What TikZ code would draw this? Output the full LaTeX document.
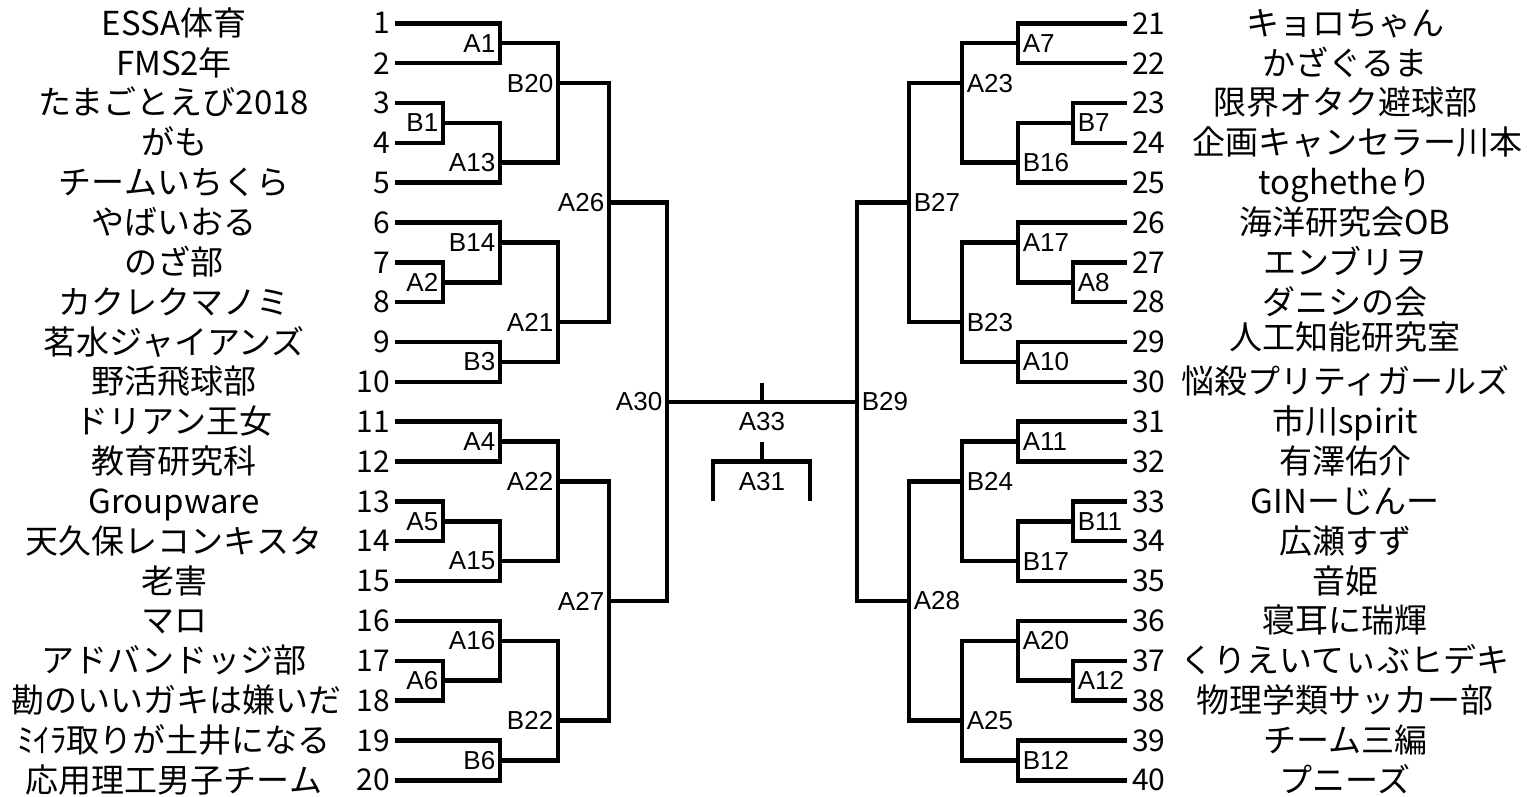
\documentclass[tikz,border=0pt]{standalone}
\usepackage{fontspec}
\setmainfont{Noto Sans CJK JP}
\newfontfamily\matchfont{Liberation Sans}

\begin{document}
\begin{tikzpicture}[x=1pt,y=-39.84pt,line width=4.5pt]
\tikzset{
  team/.style={font=\fontsize{33}{35}\selectfont,anchor=base,yshift=-12pt,inner sep=0pt},
  seedL/.style={font=\fontsize{30}{32}\selectfont,inner xsep=3pt,inner ysep=0pt,anchor=east},
  seedR/.style={font=\fontsize{30}{32}\selectfont,inner xsep=3pt,inner ysep=0pt,anchor=west},
  matchlbl/.style={font=\matchfont\fontsize{26}{28}\selectfont,inner sep=2.5pt}
}
\useasboundingbox (0,0.415) rectangle (1527,20.42);

\node[team] (t1) at (174,1) {ESSA体育};            \node[seedL] (n1) at (395,1) {1};
\node[team] (t2) at (174,2) {FMS2年};              \node[seedL] (n2) at (395,2) {2};
\node[team] (t3) at (174,3) {たまごとえび2018};    \node[seedL] (n3) at (395,3) {3};
\node[team] (t4) at (174,4) {がも};                \node[seedL] (n4) at (395,4) {4};
\node[team] (t5) at (174,5) {チームいちくら};      \node[seedL] (n5) at (395,5) {5};
\node[team] (t6) at (174,6) {やばいおる};          \node[seedL] (n6) at (395,6) {6};
\node[team] (t7) at (174,7) {のざ部};              \node[seedL] (n7) at (395,7) {7};
\node[team] (t8) at (174,8) {カクレクマノミ};      \node[seedL] (n8) at (395,8) {8};
\node[team] (t9) at (174,9) {茗水ジャイアンズ};    \node[seedL] (n9) at (395,9) {9};
\node[team] (t10) at (174,10) {野活飛球部};        \node[seedL] (n10) at (395,10) {10};
\node[team] (t11) at (174,11) {ドリアン王女};      \node[seedL] (n11) at (395,11) {11};
\node[team] (t12) at (174,12) {教育研究科};        \node[seedL] (n12) at (395,12) {12};
\node[team] (t13) at (174,13) {Groupware};         \node[seedL] (n13) at (395,13) {13};
\node[team] (t14) at (174,14) {天久保レコンキスタ};\node[seedL] (n14) at (395,14) {14};
\node[team] (t15) at (174,15) {老害};              \node[seedL] (n15) at (395,15) {15};
\node[team] (t16) at (174,16) {マロ};              \node[seedL] (n16) at (395,16) {16};
\node[team] (t17) at (174,17) {アドバンドッジ部};  \node[seedL] (n17) at (395,17) {17};
\node[team] (t18) at (177,18) {勘のいいガキは嫌いだ}; \node[seedL] (n18) at (395,18) {18};
\node[team] (t19) at (174,19) {ﾐｲﾗ取りが土井になる}; \node[seedL] (n19) at (395,19) {19};
\node[team] (t20) at (174,20) {応用理工男子チーム};\node[seedL] (n20) at (395,20) {20};

\node[team] (t21) at (1345,1) {キョロちゃん};      \node[seedR] (n21) at (1127,1) {21};
\node[team] (t22) at (1345,2) {かざぐるま};        \node[seedR] (n22) at (1127,2) {22};
\node[team] (t23) at (1345,3) {限界オタク避球部};  \node[seedR] (n23) at (1127,3) {23};
\node[team] (t24) at (1357,4) {企画キャンセラー川本}; \node[seedR] (n24) at (1127,4) {24};
\node[team] (t25) at (1345,5) {toghetheり};        \node[seedR] (n25) at (1127,5) {25};
\node[team] (t26) at (1345,6) {海洋研究会OB};      \node[seedR] (n26) at (1127,6) {26};
\node[team] (t27) at (1345,7) {エンブリヲ};        \node[seedR] (n27) at (1127,7) {27};
\node[team] (t28) at (1345,8) {ダニシの会};        \node[seedR] (n28) at (1127,8) {28};
\node[team,yshift=5pt] (t29) at (1345,9) {人工知能研究室}; \node[seedR] (n29) at (1127,9) {29};
\node[team] (t30) at (1345,10) {悩殺プリティガールズ}; \node[seedR] (n30) at (1127,10) {30};
\node[team] (t31) at (1345,11) {市川spirit};       \node[seedR] (n31) at (1127,11) {31};
\node[team] (t32) at (1345,12) {有澤佑介};         \node[seedR] (n32) at (1127,12) {32};
\node[team] (t33) at (1345,13) {GINーじんー};      \node[seedR] (n33) at (1127,13) {33};
\node[team] (t34) at (1345,14) {広瀬すず};         \node[seedR] (n34) at (1127,14) {34};
\node[team] (t35) at (1345,15) {音姫};             \node[seedR] (n35) at (1127,15) {35};
\node[team] (t36) at (1345,16) {寝耳に瑞輝};       \node[seedR] (n36) at (1127,16) {36};
\node[team] (t37) at (1345,17) {くりえいてぃぶヒデキ}; \node[seedR] (n37) at (1127,17) {37};
\node[team] (t38) at (1345,18) {物理学類サッカー部}; \node[seedR] (n38) at (1127,18) {38};
\node[team] (t39) at (1345,19) {チーム三編};       \node[seedR] (n39) at (1127,19) {39};
\node[team] (t40) at (1345,20) {プニーズ};         \node[seedR] (n40) at (1127,20) {40};

% left half
\coordinate (A1) at (500,1.5);   \coordinate (B1) at (443,3.5);
\coordinate (A13) at (500,4.5);  \coordinate (B20) at (558,2.5);
\coordinate (B14) at (500,6.5);  \coordinate (A2) at (443,7.5);
\coordinate (B3) at (500,9.5);   \coordinate (A21) at (558,8.5);
\coordinate (A26) at (609,5.5);
\coordinate (A4) at (500,11.5);  \coordinate (A5) at (443,13.5);
\coordinate (A15) at (500,14.5); \coordinate (A22) at (558,12.5);
\coordinate (A16) at (500,16.5); \coordinate (A6) at (443,17.5);
\coordinate (B6) at (500,19.5);  \coordinate (B22) at (558,18.5);
\coordinate (A27) at (609,15.5);
\coordinate (A30) at (667,10.5);

\draw (n1.east) -| (A1) (n2.east) -| (A1);
\draw (n3.east) -| (B1) (n4.east) -| (B1);
\draw (B1) -| (A13) (n5.east) -| (A13);
\draw (A1) -| (B20) (A13) -| (B20);
\draw (n7.east) -| (A2) (n8.east) -| (A2);
\draw (n6.east) -| (B14) (A2) -| (B14);
\draw (n9.east) -| (B3) (n10.east) -| (B3);
\draw (B14) -| (A21) (B3) -| (A21);
\draw (B20) -| (A26) (A21) -| (A26);
\draw (n11.east) -| (A4) (n12.east) -| (A4);
\draw (n13.east) -| (A5) (n14.east) -| (A5);
\draw (A5) -| (A15) (n15.east) -| (A15);
\draw (A4) -| (A22) (A15) -| (A22);
\draw (n17.east) -| (A6) (n18.east) -| (A6);
\draw (n16.east) -| (A16) (A6) -| (A16);
\draw (n19.east) -| (B6) (n20.east) -| (B6);
\draw (A16) -| (B22) (B6) -| (B22);
\draw (A22) -| (A27) (B22) -| (A27);
\draw (A26) -| (A30) (A27) -| (A30);

\foreach \m in {A1,B1,A13,B20,B14,A2,B3,A21,A26,A4,A5,A15,A22,A16,A6,B6,B22,A27,A30}
  \node[matchlbl,left] (l\m) at (\m) {\m};

% right half
\coordinate (A7) at (1018,1.5);   \coordinate (B7) at (1073,3.5);
\coordinate (B16) at (1018,4.5);  \coordinate (A23) at (962,2.5);
\coordinate (A17) at (1018,6.5);  \coordinate (A8) at (1073,7.5);
\coordinate (A10) at (1018,9.5);  \coordinate (B23) at (962,8.5);
\coordinate (B27) at (909,5.5);
\coordinate (A11) at (1018,11.5); \coordinate (B11) at (1073,13.5);
\coordinate (B17) at (1018,14.5); \coordinate (B24) at (962,12.5);
\coordinate (A20) at (1018,16.5); \coordinate (A12) at (1073,17.5);
\coordinate (B12) at (1018,19.5); \coordinate (A25) at (962,18.5);
\coordinate (A28) at (909,15.5);
\coordinate (B29) at (857,10.5);

\draw (n21.west) -| (A7) (n22.west) -| (A7);
\draw (n23.west) -| (B7) (n24.west) -| (B7);
\draw (B7) -| (B16) (n25.west) -| (B16);
\draw (A7) -| (A23) (B16) -| (A23);
\draw (n27.west) -| (A8) (n28.west) -| (A8);
\draw (n26.west) -| (A17) (A8) -| (A17);
\draw (n29.west) -| (A10) (n30.west) -| (A10);
\draw (A17) -| (B23) (A10) -| (B23);
\draw (A23) -| (B27) (B23) -| (B27);
\draw (n31.west) -| (A11) (n32.west) -| (A11);
\draw (n33.west) -| (B11) (n34.west) -| (B11);
\draw (B11) -| (B17) (n35.west) -| (B17);
\draw (A11) -| (B24) (B17) -| (B24);
\draw (n37.west) -| (A12) (n38.west) -| (A12);
\draw (n36.west) -| (A20) (A12) -| (A20);
\draw (n39.west) -| (B12) (n40.west) -| (B12);
\draw (A20) -| (A25) (B12) -| (A25);
\draw (B24) -| (A28) (A25) -| (A28);
\draw (B27) -| (B29) (A28) -| (B29);

\foreach \m in {A7,B7,B16,A23,A17,A8,A10,B23,B27,A11,B11,B17,B24,A20,A12,B12,A25,A28,B29}
  \node[matchlbl,right] (l\m) at (\m) {\m};

% final and third place
\coordinate (A33) at (762,10.5);
\coordinate (A33top) at (762,10.02);
\coordinate (A31top) at (762,11.5);
\coordinate (A31) at (762,12);
\coordinate (A31l) at (713,13);
\coordinate (A31r) at (810,13);
\draw (A30) -- (B29);
\draw[line width=3.5pt] (A33) -- (A33top);
\draw[line width=3.5pt] (A31top) -- (A31);
\draw (A31l) |- (A31) -| (A31r);
\node[matchlbl] (lA33) at (762,11) {A33};
\node[matchlbl] (lA31) at (762,12.5) {A31};
\end{tikzpicture}
\end{document}
